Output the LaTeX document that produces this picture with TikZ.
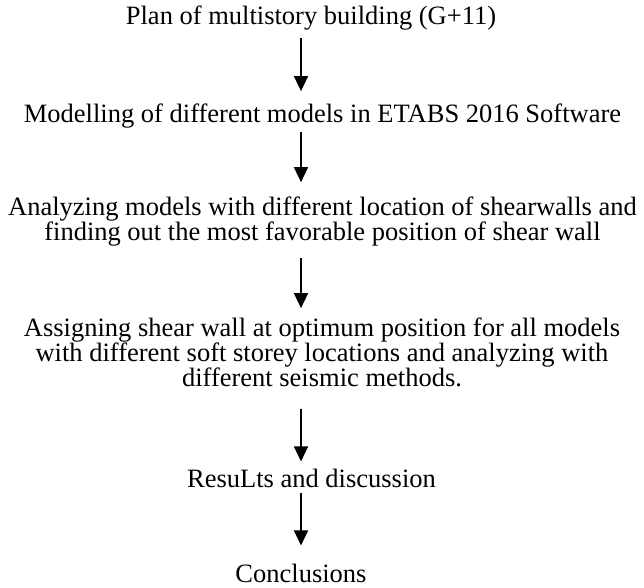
\documentclass[tikz,border=0pt]{standalone}
\usepackage{fontspec}
\setmainfont{Liberation Serif}
\usetikzlibrary{arrows.meta,positioning}

\begin{document}
\begin{tikzpicture}[x=1pt,y=1pt,
  txt/.style={font=\fontsize{26.5}{25}\selectfont,align=center,inner sep=0pt,anchor=base},
  flow/.style={-{Triangle[width=14pt,length=15pt]},line width=1.6pt}]
  \useasboundingbox (0,0) rectangle (644,-587);
  % steps of the study
  \node[txt] (plan) at (311,-24) {Plan of multistory building (G+11)};
  \node[txt] (model) at (322.5,-122) {Modelling of different models in ETABS 2016 Software};
  \node[txt] (analyse) at (322.5,-240) {Analyzing models with different location of shearwalls and\\finding out the most favorable position of shear wall};
  \node[txt] (assign) at (322,-386) {Assigning shear wall at optimum position for all models\\with different soft storey locations and analyzing with\\different seismic methods.};
  \node[txt] (result) at (311.5,-487) {ResuLts and discussion};
  \node[txt] (concl) at (301,-582) {Conclusions};
  % arrows
  \draw[flow,shorten <=8pt,shorten >=12pt] (plan.south -| concl) -- (model.north -| concl);
  \draw[flow,shorten <=4pt,shorten >=14pt] (model.south -| concl) -- (analyse.north -| concl);
  \draw[flow,shorten <=12pt,shorten >=9pt] (analyse.south -| concl) -- (assign.north -| concl);
  \draw[flow,shorten <=22pt,shorten >=7pt] (assign.south -| concl) -- (result.north -| concl);
  \draw[flow,shorten <=6pt,shorten >=18pt] (result.south -| concl) -- (concl.north);
\end{tikzpicture}
\end{document}
